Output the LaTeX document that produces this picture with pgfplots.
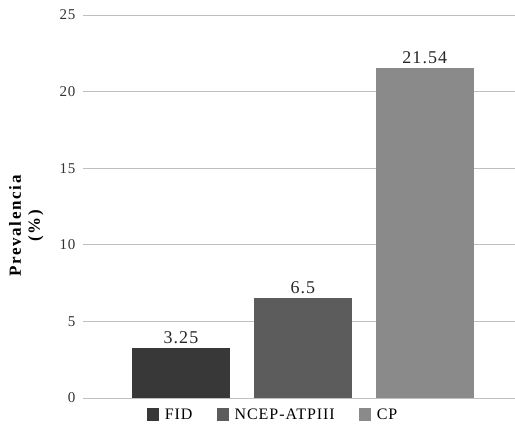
\documentclass[border=0pt]{standalone}
\usepackage{pgfplots}
\pgfplotsset{compat=1.18}
\usepackage{fontspec}
\setmainfont{Liberation Serif}[LetterSpace=6]
\newfontfamily\lblfont{Liberation Serif}[LetterSpace=10]
\definecolor{cFID}{HTML}{383838}
\definecolor{cNCEP}{HTML}{5C5C5C}
\definecolor{cCP}{HTML}{8A8A8A}
\definecolor{grid}{HTML}{C8C8C8}
\begin{document}
\begin{tikzpicture}
\begin{axis}[
  scale only axis,
  width=432pt, height=383pt,
  xmin=-0.803, xmax=2.74,
  ymin=0, ymax=25,
  ytick={0,5,10,15,20,25},
  xtick=\empty,
  axis line style={draw=none},
  ymajorgrids,
  grid style={grid, line width=0.8pt},
  major tick length=0pt,
  /pgf/number format/assume math mode=true,
  yticklabel style={font=\fontsize{15}{17}\selectfont, text=black!80, xshift=-4pt},
  ylabel={\bfseries Prevalencia\\\bfseries (\%)},
  ylabel style={align=center, font=\lblfont\fontsize{17}{19}\selectfont, at={(axis description cs:-0.083,0.449)}},
  ybar, bar width=98pt, bar shift=0pt,
  nodes near coords,
  nodes near coords style={font=\fontsize{18}{20}\selectfont, text=black!85, yshift=1pt},
  point meta=explicit symbolic,
  legend columns=3,
  legend style={draw=none, fill=none, at={(0.44,-0.018)}, anchor=north,
    font=\fontsize{16}{18}\selectfont,
    /tikz/every odd column/.append style={column sep=4pt},
    /tikz/every even column/.append style={column sep=22pt}},
  legend image code/.code={\fill[#1] (0pt,-6pt) rectangle (12pt,7pt);},
]
\addplot[fill=cFID, draw=none] coordinates {(0,3.25) [3.25]};
\addlegendentry{FID}
\addplot[fill=cNCEP, draw=none] coordinates {(1,6.5) [6.5]};
\addlegendentry{NCEP-ATPIII}
\addplot[fill=cCP, draw=none] coordinates {(2,21.54) [21.54]};
\addlegendentry{CP}
\end{axis}
\pgfresetboundingbox
\path ([xshift=-83pt,yshift=-30pt]current axis.south west) rectangle ([yshift=15pt]current axis.north east);
\end{tikzpicture}
\end{document}
